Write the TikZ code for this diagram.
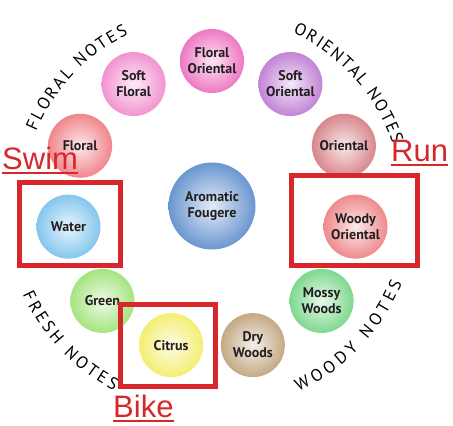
\documentclass[tikz,border=0pt]{standalone}
\usepackage{fontspec}
\setmainfont{Liberation Sans}
\newfontfamily\notefont{PT Sans}
\usetikzlibrary{decorations.text}

\definecolor{flori}{HTML}{EE78C4}
\definecolor{sflor}{HTML}{F293D0}
\definecolor{sori}{HTML}{C283D6}
\definecolor{ori}{HTML}{D8868C}
\definecolor{wori}{HTML}{EE8A8C}
\definecolor{mossy}{HTML}{7ED88E}
\definecolor{dry}{HTML}{C4A984}
\definecolor{citrus}{HTML}{F3EE72}
\definecolor{green}{HTML}{A4E47E}
\definecolor{water}{HTML}{84C6EE}
\definecolor{floral}{HTML}{F0868C}
\definecolor{fougere}{HTML}{6A96D0}
\definecolor{notetext}{HTML}{231F20}
\definecolor{markred}{HTML}{D7262C}

\begin{document}
\begin{tikzpicture}[x=1pt,y=1pt,
  note/.style={circle,minimum size=64pt,inner sep=0pt,shading=radial,
    inner color=#1!18!white,outer color=#1,align=center,text=notetext,
    font=\notefont\bfseries\fontsize{14}{16}\selectfont},
  marker/.style={draw=markred,line width=5pt},
  sport/.style={inner sep=0pt,anchor=base west,text=markred,
    font=\fontsize{31}{31}\selectfont},
  family/.style={decorate,decoration={text along path,
    text={|\notefont\fontsize{17}{17}\selectfont|#1},text align={fit to path}}}]

\useasboundingbox (0,0) rectangle (453,426);
\coordinate (c) at (212,220);

%the wheel
\node[note=fougere,minimum size=87pt] (af) at (c) {Aromatic\\Fougere};
\foreach \k/\nm/\col/\lbl in {0/fo/flori/{Floral\\Oriental},
    1/so/sori/{Soft\\Oriental}, 2/or/ori/Oriental,
    3/wo/wori/{Woody\\Oriental}, 4/mw/mossy/{Mossy\\Woods},
    5/dw/dry/{Dry\\Woods}, 6/ci/citrus/Citrus, 7/gr/green/Green,
    8/wa/water/Water, 9/fl/floral/Floral, 10/sf/sflor/{Soft\\Floral}}
  {\pgfmathsetmacro\ang{90-\k*360/11}
   \node[note=\col] (\nm) at ([shift={(\ang:145)}]c) {\lbl};}

%family names round the wheel
\path[family=FLORAL NOTES] ([shift={(157:191)}]c) arc[start angle=157,end angle=116,radius=191];
\path[family=ORIENTAL NOTES] ([shift={(65:191)}]c) arc[start angle=65,end angle=19,radius=191];
\path[family=FRESH NOTES] ([shift={(205:209)}]c) arc[start angle=205,end angle=242,radius=209];
\path[family=WOODY NOTES] ([shift={(-65:205)}]c) arc[start angle=-65,end angle=-22,radius=205];

%boxes and labels
\draw[marker] (19.5,160.5) rectangle (120.5,243.5);
\draw[marker] (291.5,160.5) rectangle (417.5,250.5);
\draw[marker] (120.5,39.5) rectangle (215.5,121.5);

\node[sport] (swim) at (2,256) {Swim};
\node[sport] (run) at (391,264) {Run};
\node[sport] (bike) at (113,8) {Bike};
\foreach \s in {swim,run,bike}
  \draw[markred,line width=1.8pt] ([yshift=-3pt]\s.base west) -- ([yshift=-3pt]\s.base east);

\end{tikzpicture}
\end{document}
